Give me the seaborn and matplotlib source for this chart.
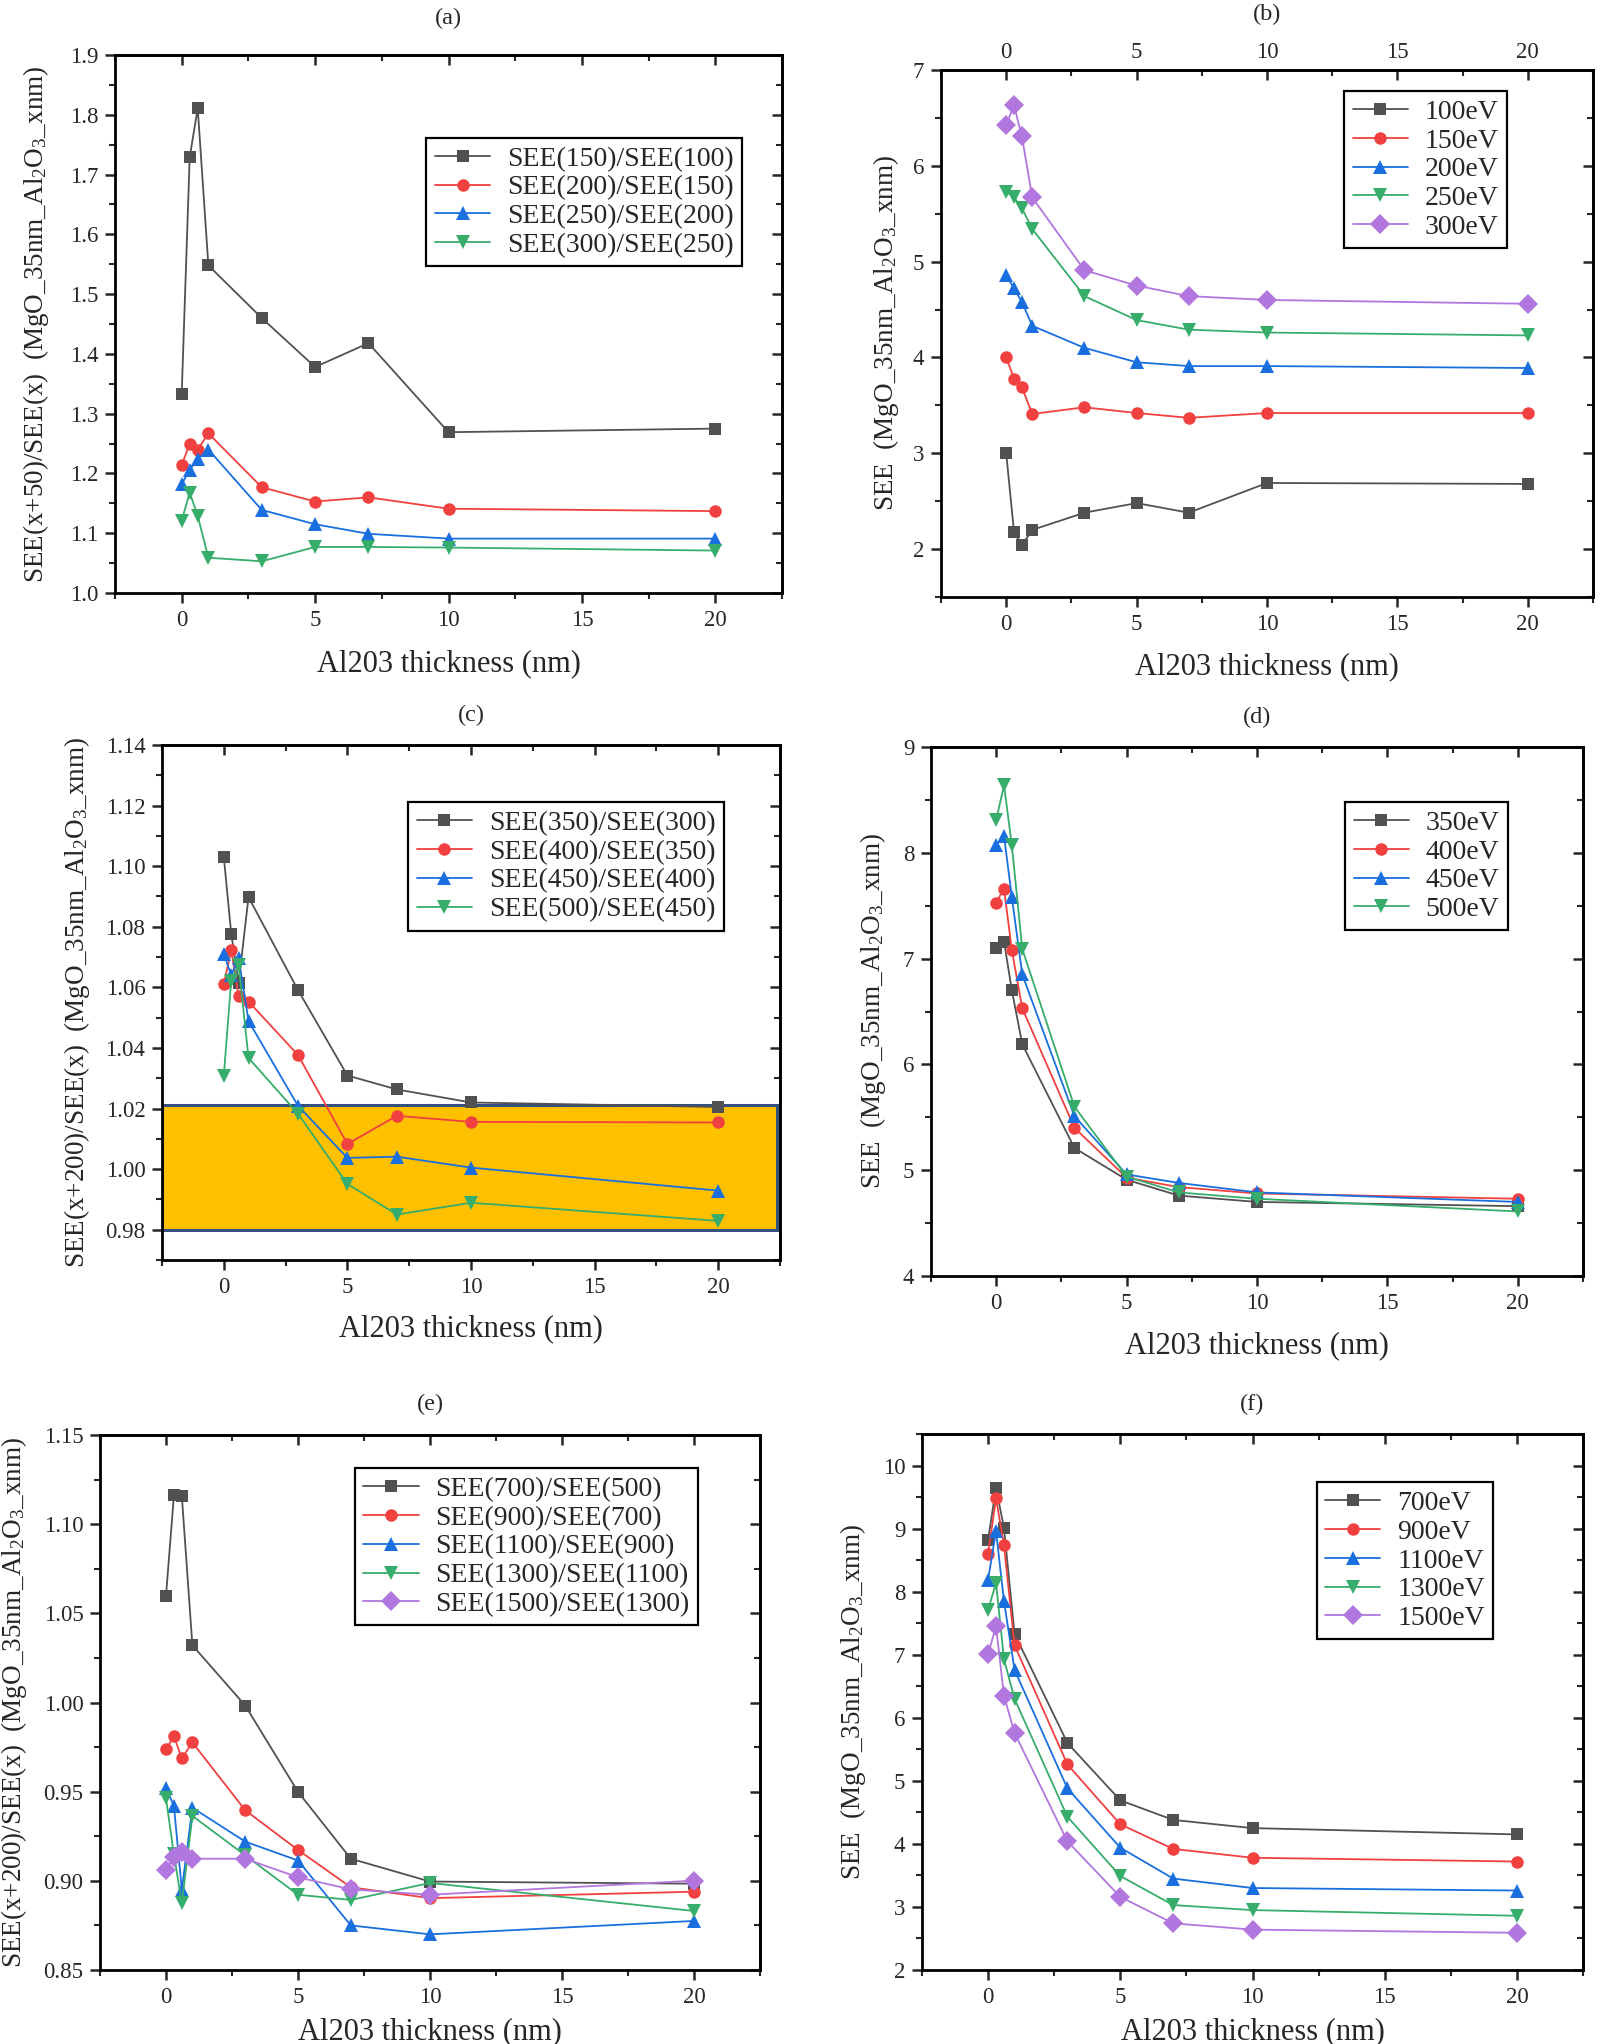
import matplotlib
matplotlib.use('Agg')
import matplotlib.pyplot as plt
import seaborn as sns
from matplotlib.ticker import MultipleLocator, FormatStrFormatter

# Al2O3 thickness (nm), shared by all panels
thick = [0, 0.3, 0.6, 1, 3, 5, 7, 10, 20]
xticks = [0, 5, 10, 15, 20]

# (a) SEE(x+50)/SEE(x)
a_labels = ['SEE(150)/SEE(100)', 'SEE(200)/SEE(150)', 'SEE(250)/SEE(200)', 'SEE(300)/SEE(250)']
a_150_100 = [1.333, 1.729, 1.811, 1.548, 1.460, 1.378, 1.418, 1.269, 1.275]
a_200_150 = [1.214, 1.250, 1.240, 1.267, 1.177, 1.153, 1.160, 1.141, 1.137]
a_250_200 = [1.182, 1.206, 1.224, 1.240, 1.139, 1.115, 1.099, 1.091, 1.091]
a_300_250 = [1.121, 1.168, 1.129, 1.059, 1.053, 1.077, 1.077, 1.076, 1.071]

# (b) SEE at 100-300 eV
b_labels = ['100eV', '150eV', '200eV', '250eV', '300eV']
b_100 = [3.00, 2.18, 2.04, 2.20, 2.38, 2.48, 2.38, 2.69, 2.68]
b_150 = [4.00, 3.78, 3.69, 3.41, 3.48, 3.42, 3.37, 3.42, 3.42]
b_200 = [4.86, 4.72, 4.58, 4.33, 4.10, 3.95, 3.91, 3.91, 3.89]
b_250 = [5.73, 5.67, 5.56, 5.34, 4.64, 4.39, 4.29, 4.26, 4.23]
b_300 = [6.43, 6.63, 6.31, 5.67, 4.91, 4.75, 4.64, 4.60, 4.56]

# (c) SEE(x+50)/SEE(x), 300-500 eV
c_labels = ['SEE(350)/SEE(300)', 'SEE(400)/SEE(350)', 'SEE(450)/SEE(400)', 'SEE(500)/SEE(450)']
c_350_300 = [1.1031, 1.0777, 1.0615, 1.0898, 1.0591, 1.0309, 1.0263, 1.0220, 1.0205]
c_400_350 = [1.0611, 1.0723, 1.0572, 1.0553, 1.0377, 1.0083, 1.0176, 1.0156, 1.0154]
c_450_400 = [1.0710, 1.0640, 1.0697, 1.0489, 1.0209, 1.0037, 1.0041, 1.0005, 0.9929]
c_500_450 = [1.0309, 1.0622, 1.0674, 1.0367, 1.0183, 0.9951, 0.9850, 0.9889, 0.9829]
c_band = [0.980, 1.0212]

# (d) SEE at 350-500 eV
d_labels = ['350eV', '400eV', '450eV', '500eV']
d_350 = [7.10, 7.16, 6.70, 6.19, 5.21, 4.91, 4.76, 4.70, 4.66]
d_400 = [7.53, 7.66, 7.08, 6.53, 5.40, 4.93, 4.84, 4.78, 4.73]
d_450 = [8.07, 8.16, 7.58, 6.85, 5.51, 4.96, 4.88, 4.79, 4.70]
d_500 = [8.31, 8.64, 8.07, 7.09, 5.60, 4.94, 4.79, 4.73, 4.61]

# (e) SEE(x+200)/SEE(x), 500-1500 eV
e_labels = ['SEE(700)/SEE(500)', 'SEE(900)/SEE(700)', 'SEE(1100)/SEE(900)',
            'SEE(1300)/SEE(1100)', 'SEE(1500)/SEE(1300)']
e_700_500 = [1.0599, 1.1161, 1.1156, 1.0321, 0.9983, 0.9499, 0.9124, 0.8996, 0.8984]
e_900_700 = [0.9737, 0.9811, 0.9688, 0.9776, 0.9396, 0.9173, 0.8964, 0.8903, 0.8939]
e_1100_900 = [0.9520, 0.9420, 0.8950, 0.9410, 0.9220, 0.9114, 0.8750, 0.8700, 0.8775]
e_1300_1100 = [0.9462, 0.9148, 0.8873, 0.9364, 0.9143, 0.8922, 0.8893, 0.8988, 0.8831]
e_1500_1300 = [0.9062, 0.9131, 0.9163, 0.9124, 0.9124, 0.9020, 0.8952, 0.8922, 0.9001]

# (f) SEE at 700-1500 eV
f_labels = ['700eV', '900eV', '1100eV', '1300eV', '1500eV']
f_700 = [8.82, 9.65, 9.01, 7.33, 5.60, 4.69, 4.38, 4.25, 4.15]
f_900 = [8.60, 9.48, 8.74, 7.15, 5.26, 4.31, 3.92, 3.78, 3.72]
f_1100 = [8.19, 8.96, 7.85, 6.76, 4.88, 3.94, 3.45, 3.30, 3.26]
f_1300 = [7.71, 8.14, 6.93, 6.30, 4.43, 3.49, 3.03, 2.95, 2.86]
f_1500 = [7.01, 7.45, 6.35, 5.76, 4.04, 3.16, 2.74, 2.64, 2.59]

colors = ['#515151', '#F14040', '#1A6FDF', '#37AD6B', '#B177DE']
markers = ['s', 'o', '^', 'v', 'D']

sns.set_style('ticks')
plt.rcParams['font.family'] = ['Liberation Serif', 'DejaVu Serif']
plt.rcParams['mathtext.fontset'] = 'custom'
plt.rcParams['mathtext.rm'] = 'Liberation Serif'
plt.rcParams['mathtext.it'] = 'Liberation Serif:italic'

W, H = 1600, 2044
fig = plt.figure(figsize=(W / 100, H / 100), dpi=100)

XLAB = 'Al203 thickness (nm)'
SUB = '(MgO_35nm_Al$_2$O$_3$_xnm)'


def make_ax(l, r, t, b):
    return fig.add_axes([l / W, 1 - b / H, (r - l) / W, (b - t) / H])


def panel(ax, series, labels, ylim, ymaj, ymin, yfmt, ylabel, ylab_x, leg_xy,
          title, title_y, top_labels=False, xlab_y=-0.105):
    for i, (vals, lab) in enumerate(zip(series, labels)):
        sns.lineplot(x=thick, y=vals, ax=ax, color=colors[i], marker=markers[i],
                     markersize=10 if markers[i] in '^vD' else 9,
                     markeredgewidth=0, linewidth=1.3, label=lab, zorder=3)
    ax.set_xlim(-2.5, 22.5)
    ax.set_ylim(*ylim)
    ax.set_xticks(xticks)
    ax.xaxis.set_minor_locator(MultipleLocator(2.5))
    ax.yaxis.set_major_locator(MultipleLocator(ymaj))
    ax.yaxis.set_minor_locator(MultipleLocator(ymin))
    ax.yaxis.set_major_formatter(FormatStrFormatter(yfmt))
    ax.tick_params(which='major', direction='out', length=7, width=1.8,
                   labelsize=16.5, pad=5)
    ax.tick_params(which='minor', direction='out', length=4, width=1.5)
    for s in ax.spines.values():
        s.set_linewidth(2)
        s.set_color('black')

    # inward ticks on the top and right frame
    top = ax.secondary_xaxis('top')
    top.set_xticks(xticks)
    top.xaxis.set_minor_locator(MultipleLocator(2.5))
    top.tick_params(which='major', direction='in', length=7, width=1.8,
                    labelsize=16.5, pad=5, labeltop=top_labels)
    top.tick_params(which='minor', direction='in', length=4, width=1.5)
    top.spines['top'].set_linewidth(2)
    right = ax.secondary_yaxis('right')
    right.yaxis.set_major_locator(MultipleLocator(ymaj))
    right.yaxis.set_minor_locator(MultipleLocator(ymin))
    right.tick_params(which='major', direction='in', length=7, width=1.8,
                      labelright=False)
    right.tick_params(which='minor', direction='in', length=4, width=1.5)
    right.spines['right'].set_linewidth(2)

    ax.set_xlabel(XLAB, fontsize=22)
    ax.set_ylabel(ylabel, fontsize=19.5)
    ax.xaxis.set_label_coords(0.5, xlab_y)
    ax.yaxis.set_label_coords(ylab_x, 0.5)

    leg = ax.legend(loc='upper right', bbox_to_anchor=leg_xy, frameon=True,
                    fancybox=False, edgecolor='black', framealpha=1, fontsize=20,
                    handlelength=2.0, handletextpad=0.6, labelspacing=0.12,
                    borderpad=0.3, borderaxespad=0)
    leg.get_frame().set_linewidth(1.6)

    pos = ax.get_position()
    fig.text(pos.x0 + pos.width / 2, 1 - title_y / H, title, ha='center',
             va='center', fontsize=17.5)


ax_a = make_ax(115, 782, 55, 593)
panel(ax_a, [a_150_100, a_200_150, a_250_200, a_300_250], a_labels,
      (1.0, 1.9), 0.1, 0.05, '%.1f', 'SEE(x+50)/SEE(x)  ' + SUB, -0.096,
      (0.94, 0.846), '(a)', 18)

ax_b = make_ax(941, 1593, 70, 597)
panel(ax_b, [b_100, b_150, b_200, b_250, b_300], b_labels,
      (1.5, 7.0), 1, 0.5, '%d', 'SEE  ' + SUB, -0.061,
      (0.868, 0.960), '(b)', 14, top_labels=True)

ax_c = make_ax(162, 780, 745, 1260)
ax_c.axhspan(c_band[0], c_band[1], xmax=0.995, facecolor='#FFC000',
             edgecolor='#34507F', linewidth=2.2, zorder=1)
panel(ax_c, [c_350_300, c_400_350, c_450_400, c_500_450], c_labels,
      (0.97, 1.14), 0.02, 0.01, '%.2f', 'SEE(x+200)/SEE(x)  ' + SUB, -0.113,
      (0.909, 0.889), '(c)', 715)

ax_d = make_ax(931, 1583, 747, 1276)
panel(ax_d, [d_350, d_400, d_450, d_500], d_labels,
      (4, 9), 1, 0.5, '%d', 'SEE  ' + SUB, -0.066,
      (0.885, 0.896), '(d)', 717)

ax_e = make_ax(100, 760, 1435, 1970)
panel(ax_e, [e_700_500, e_900_700, e_1100_900, e_1300_1100, e_1500_1300], e_labels,
      (0.85, 1.15), 0.05, 0.025, '%.2f', 'SEE(x+200)/SEE(x)  ' + SUB, -0.107,
      (0.906, 0.938), '(e)', 1404, xlab_y=-0.088)

ax_f = make_ax(922, 1583, 1434, 1970)
panel(ax_f, [f_700, f_900, f_1100, f_1300, f_1500], f_labels,
      (2, 10.5), 1, 0.5, '%d', 'SEE  ' + SUB, -0.082,
      (0.864, 0.910), '(f)', 1404, xlab_y=-0.088)

fig.savefig('out.png', dpi=100)
